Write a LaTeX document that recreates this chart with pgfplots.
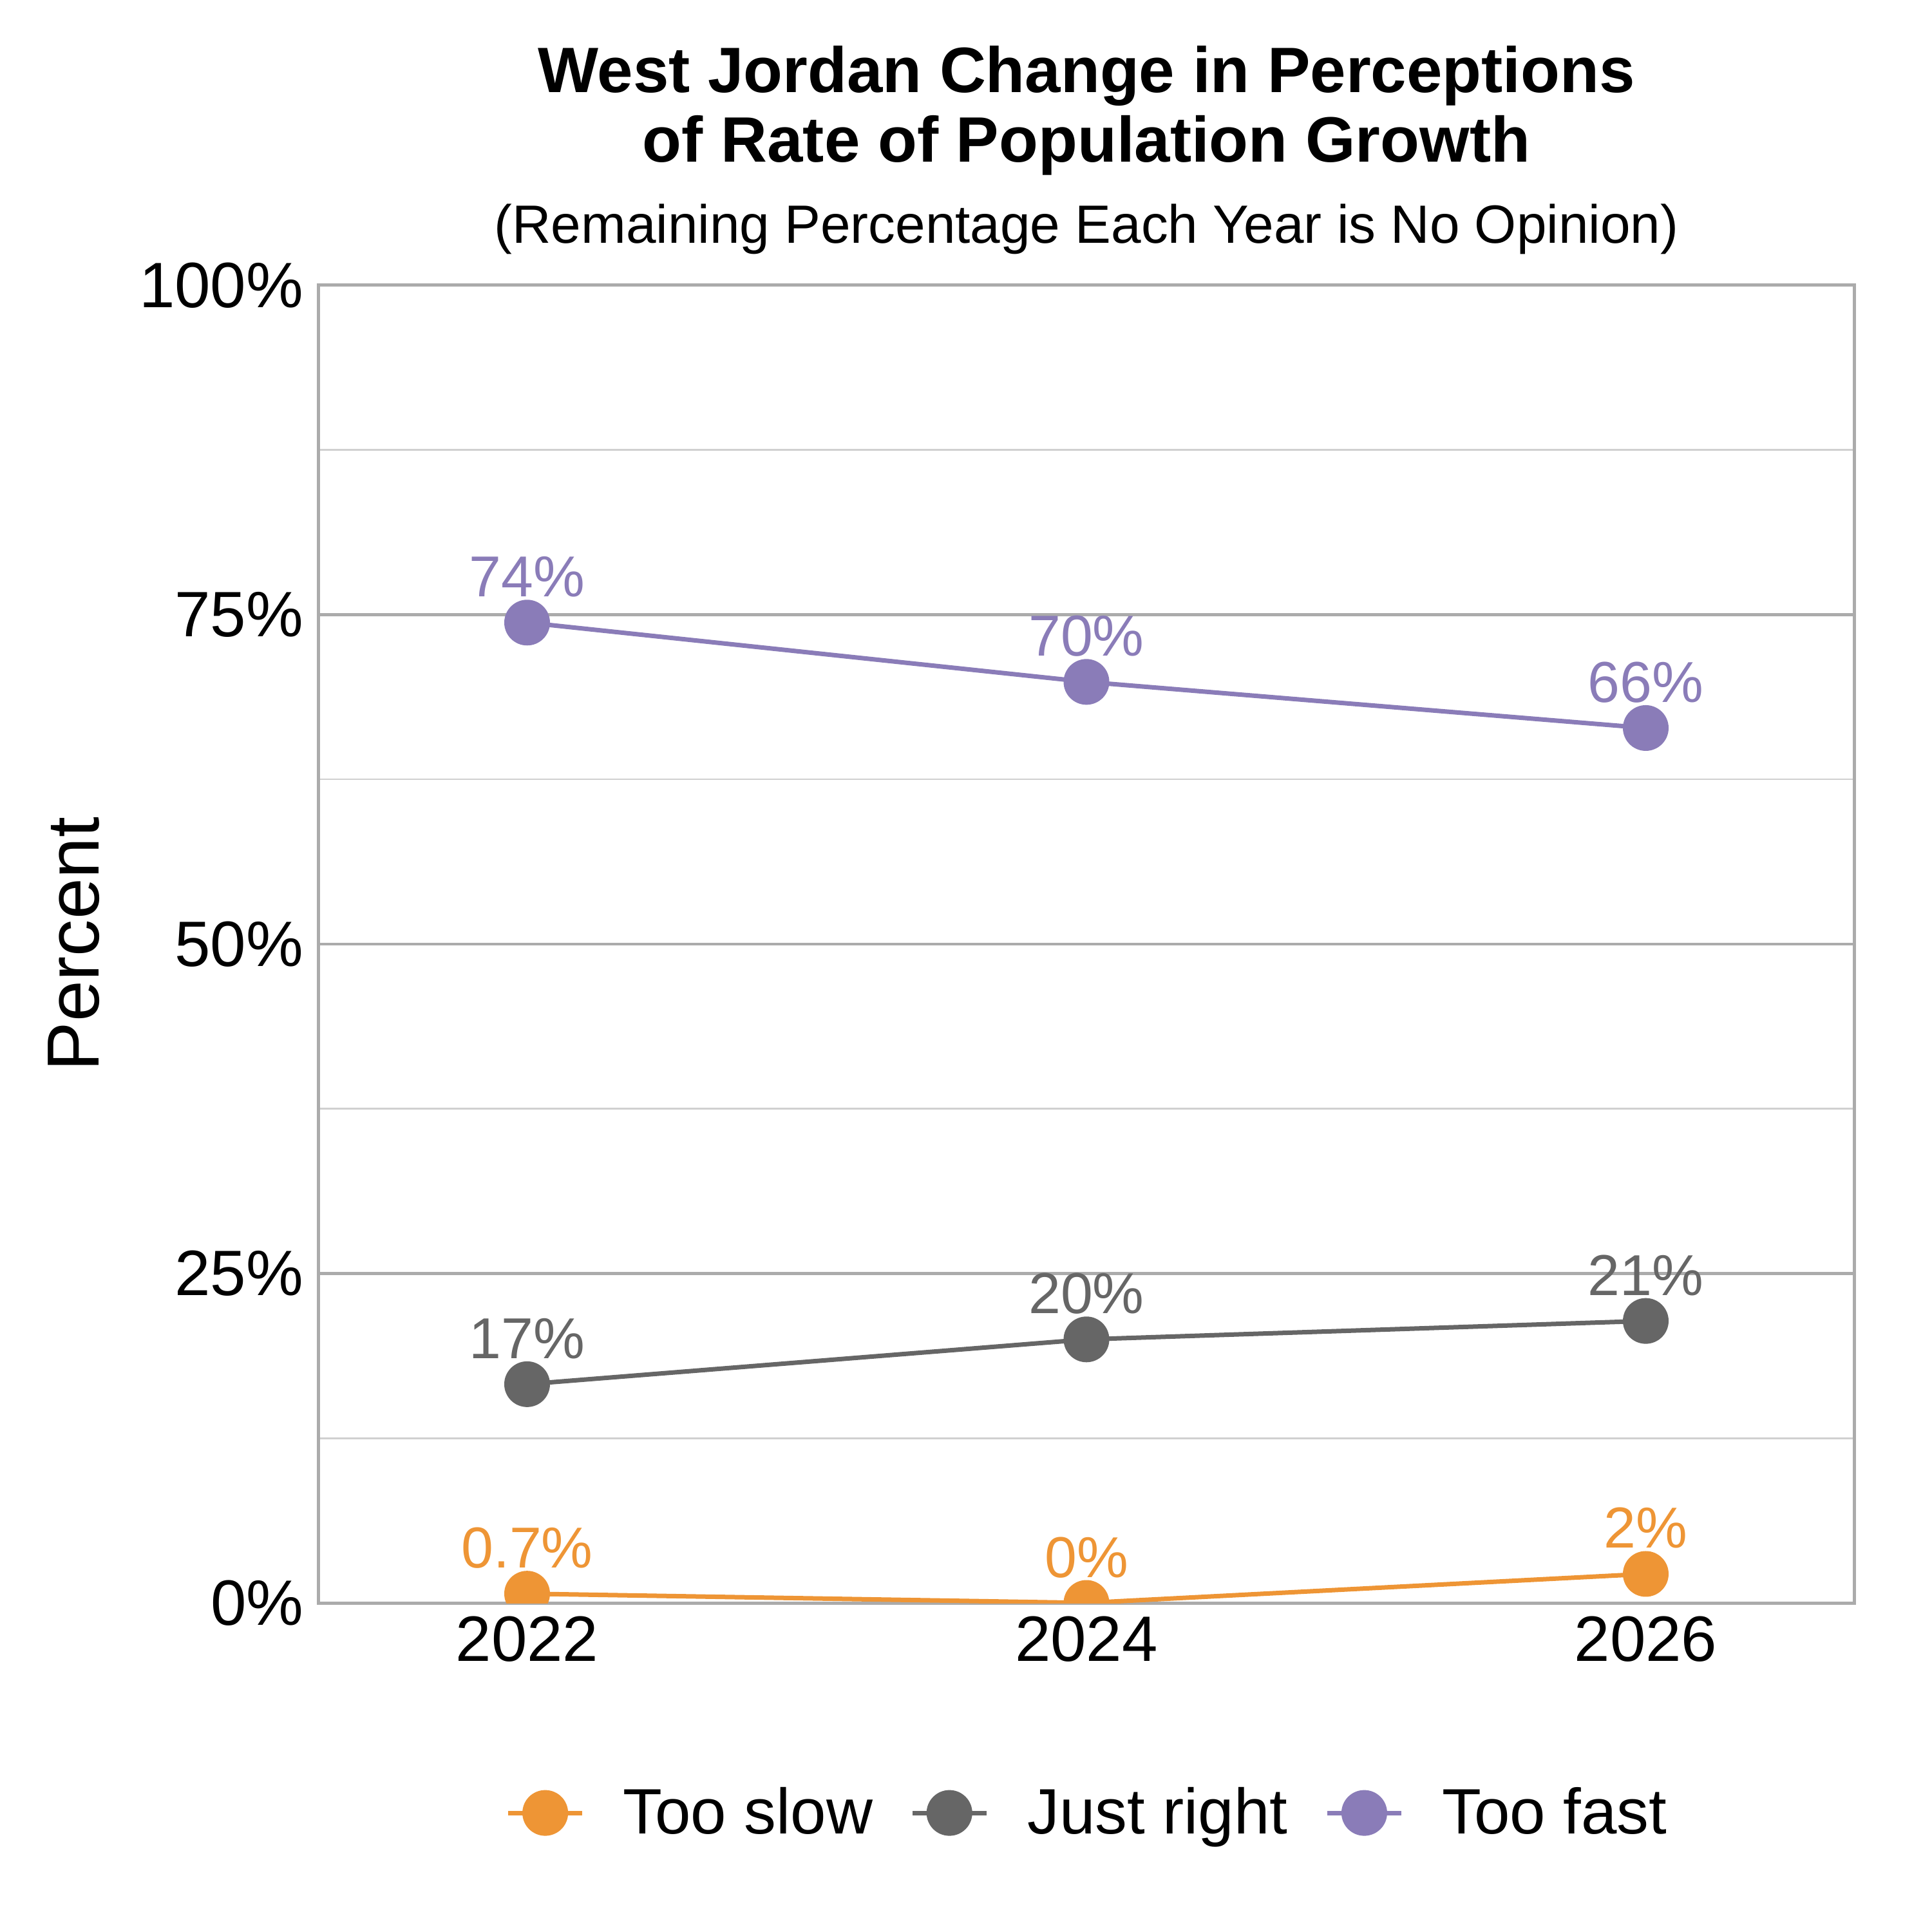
\documentclass[border=0pt]{standalone}
\usepackage{fontspec}
\setmainfont{Liberation Sans}
\usepackage{pgfplots}
\pgfplotsset{compat=1.18}

\definecolor{slowC}{HTML}{EE9535}
\definecolor{rightC}{HTML}{666666}
\definecolor{fastC}{HTML}{8A7CB8}
\definecolor{frameC}{HTML}{ABABAB}
\definecolor{minorC}{HTML}{D0D0D0}

\begin{document}
\begin{tikzpicture}
\begin{axis}[
    at={(0,0)}, anchor=south west,
    scale only axis,
    width=476.8bp, height=409.2bp,
    xmin=2021.255, xmax=2026.745,
    ymin=0, ymax=100,
    xtick={2022,2024,2026},
    xticklabels={2022,2024,2026},
    ytick={0,25,50,75,100},
    yticklabels={0\%,25\%,50\%,75\%,100\%},
    minor ytick={12.5,37.5,62.5,87.5},
    ymajorgrids, yminorgrids,
    major grid style={frameC, line width=0.9bp},
    minor grid style={minorC, line width=0.5bp},
    axis line style={frameC, line width=1bp},
    major tick length=0pt, minor tick length=0pt,
    /pgf/number format/assume math mode=true,
    ticklabel style={font=\fontsize{20}{24}\selectfont, inner sep=0pt},
    yticklabel style={anchor=east, xshift=-4.6bp},
    xticklabel style={anchor=north, yshift=-4bp},
    clip marker paths=true,
    legend columns=3,
    legend style={
        at={(0.5,-0.1594)}, anchor=center,
        draw=none, fill=none,
        font=\fontsize{20}{24}\selectfont,
        nodes={inner sep=0pt},
        /tikz/every odd column/.append style={column sep=12bp},
        /tikz/every even column/.append style={column sep=11.6bp},
    },
    legend image code/.code={
        \draw[mark repeat=2,mark phase=2]
            plot coordinates {(0bp,0bp) (11.5bp,0bp) (23bp,0bp)};
    },
    point meta=explicit symbolic,
    nodes near coords,
    every node near coord/.append style={
        font=\fontsize{18}{21}\selectfont,
        inner sep=0pt, anchor=base, yshift=8bp},
]
% too slow
\addplot[slowC, line width=1.4bp, mark=*, mark size=6.4bp,
    mark options={draw=none, fill=slowC},
    every node near coord/.append style={text=slowC}]
    coordinates {(2022,0.7) [0.7\%] (2024,0) [0\%] (2026,2.2) [2\%]};
\addlegendentry{Too slow}
% just right
\addplot[rightC, line width=1.4bp, mark=*, mark size=6.4bp,
    mark options={draw=none, fill=rightC},
    every node near coord/.append style={text=rightC}]
    coordinates {(2022,16.6) [17\%] (2024,20.0) [20\%] (2026,21.4) [21\%]};
\addlegendentry{Just right}
% too fast
\addplot[fastC, line width=1.4bp, mark=*, mark size=6.4bp,
    mark options={draw=none, fill=fastC},
    every node near coord/.append style={text=fastC}]
    coordinates {(2022,74.4) [74\%] (2024,69.9) [70\%] (2026,66.4) [66\%]};
\addlegendentry{Too fast}
\end{axis}

\node[anchor=base, font=\fontsize{20}{24}\selectfont\bfseries]
    at (238.4bp,469bp) {West Jordan Change in Perceptions};
\node[anchor=base, font=\fontsize{20}{24}\selectfont\bfseries]
    at (238.4bp,447.4bp) {of Rate of Population Growth};
\node[anchor=base, font=\fontsize{16.8}{20}\selectfont]
    at (238.4bp,422.2bp) {(Remaining Percentage Each Year is No Opinion)};
\node[rotate=90, anchor=base, font=\fontsize{23}{27}\selectfont]
    at (-68.2bp,204.6bp) {Percent};

\pgfresetboundingbox
\path[use as bounding box] (-99bp,-102.2bp) rectangle (501bp,497.8bp);
\end{tikzpicture}
\end{document}
